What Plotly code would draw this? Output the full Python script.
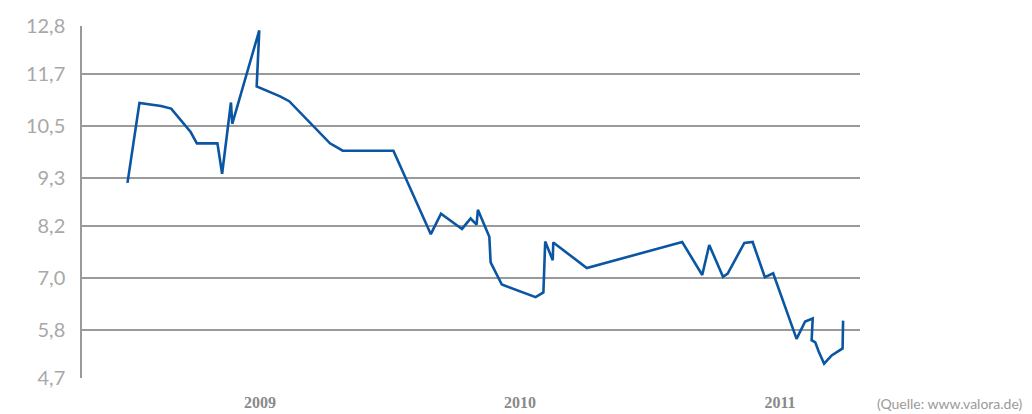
import plotly.graph_objects as go

# decimal years
years = [2008.490, 2008.536, 2008.619, 2008.658, 2008.733, 2008.757, 2008.836, 2008.854,
         2008.888, 2008.893, 2008.997, 2008.987, 2009.077, 2009.112, 2009.269, 2009.318,
         2009.513, 2009.657, 2009.696, 2009.777, 2009.810, 2009.833, 2009.838, 2009.882,
         2009.887, 2009.930, 2010.060, 2010.090, 2010.097, 2010.126, 2010.128, 2010.257,
         2010.624, 2010.701, 2010.728, 2010.781, 2010.799, 2010.863, 2010.895, 2010.942,
         2010.974, 2011.064, 2011.097, 2011.126, 2011.122, 2011.136, 2011.149, 2011.170,
         2011.199, 2011.241, 2011.243]
prices = [9.19, 11.03, 10.96, 10.90, 10.36, 10.10, 10.10, 9.40,
          11.04, 10.55, 12.70, 11.41, 11.18, 11.07, 10.10, 9.93,
          9.93, 8.01, 8.48, 8.13, 8.37, 8.23, 8.57, 7.95,
          7.36, 6.85, 6.56, 6.67, 7.84, 7.41, 7.82, 7.23,
          7.83, 7.07, 7.76, 7.03, 7.10, 7.81, 7.83, 7.02,
          7.11, 5.60, 6.00, 6.07, 5.57, 5.52, 5.31, 5.03,
          5.22, 5.38, 6.02]

y_tick_vals = [4.7, 5.8, 7.0, 8.2, 9.3, 10.5, 11.7, 12.8]
y_tick_text = ["4,7", "5,8", "7,0", "8,2", "9,3", "10,5", "11,7", "12,8"]
x_tick_vals = [2009, 2010, 2011]
x_tick_text = ["2009", "2010", "2011"]
source_text = "(Quelle: www.valora.de)"

# the page body has an 8px default margin, so the figure is 8px smaller
W, H = 1024, 406
L, R, T, B = 74, 172, 18, 36
PW, PH = W - L - R, H - T - B

fig = go.Figure()
fig.add_trace(go.Scatter(
    x=years, y=prices, mode="lines",
    line=dict(color="#0a56a3", width=2.6),
    showlegend=False, hoverinfo="skip",
))

fig.update_layout(
    width=W, height=H,
    margin=dict(l=L, r=R, t=T, b=B),
    paper_bgcolor="white", plot_bgcolor="white",
    xaxis=dict(
        range=[2008.315, 2011.308],
        tickvals=x_tick_vals, ticktext=x_tick_text,
        showgrid=False, zeroline=False, showline=False,
        ticks="", ticklabelstandoff=13, automargin=False,
        tickfont=dict(family="Liberation Serif", size=16, color="#8a8a8a", weight="bold"),
        fixedrange=True,
    ),
    yaxis=dict(
        range=[4.7, 12.8],
        tickvals=y_tick_vals, ticktext=y_tick_text,
        showgrid=True, gridcolor="#9a9a9a", gridwidth=1.5,
        zeroline=False, showline=True, linecolor="#9a9a9a", linewidth=1.5,
        ticks="", ticklabelstandoff=11, automargin=False,
        tickfont=dict(family="Lato", size=20, color="#a8a8a8"),
        fixedrange=True,
    ),
    annotations=[dict(
        text=source_text, xref="paper", yref="paper",
        x=(1016 - L) / PW, y=-(395 - (H - B)) / PH,
        xanchor="right", yanchor="middle", showarrow=False,
        font=dict(family="Lato", size=14, color="#9a9a9a"),
    )],
)

fig.write_html("out.html")
